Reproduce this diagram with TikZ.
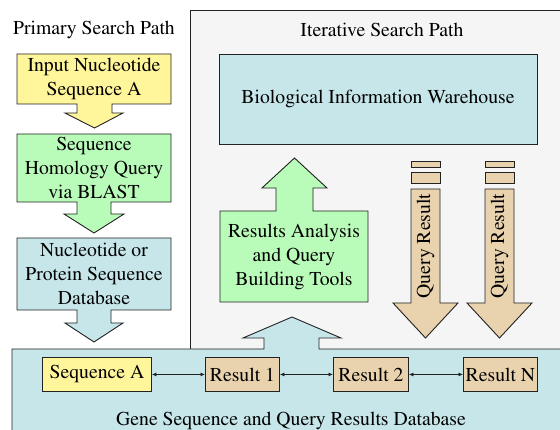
\documentclass[tikz,border=0pt]{standalone}
\usepackage[T1]{fontenc}
\usepackage{mathptmx}
\usetikzlibrary{arrows.meta}
\definecolor{cyel}{HTML}{FFF59A}
\definecolor{cgrn}{HTML}{B9FBB9}
\definecolor{cblu}{HTML}{C6E6E9}
\definecolor{ctan}{HTML}{E9D2AE}
\definecolor{cgry}{HTML}{F5F5F5}
\definecolor{cline}{HTML}{222222}
\begin{document}
\fontsize{19.7}{23.6}\selectfont
\begin{tikzpicture}[x=1pt,y=-1pt,
  shp/.style={draw=cline,line width=0.9pt,line join=miter},
  lbl/.style={align=center,inner sep=0pt,text=black},
  resbox/.style={draw=cline,line width=0.9pt,inner xsep=0pt,inner ysep=0pt,minimum height=34pt,anchor=north west,text=black},
  link/.style={cline,line width=0.7pt,{Latex[length=4.5pt,width=4pt]}-{Latex[length=4.5pt,width=4pt]}}]
\useasboundingbox (0,0) rectangle (560,430);
\clip (0,0) rectangle (560,430);
% shapes first
\fill[cgry,shp] (190,10) rectangle (570,349);
\filldraw[fill=cyel,shp] (17,54) -- (171,54) -- (171,104) -- (112,104) -- (112,113) -- (123,113) -- (94.5,128) -- (65,113) -- (77,113) -- (77,104) -- (17,104) -- cycle;
\filldraw[fill=cgrn,shp] (17,134) -- (171,134) -- (171,202) -- (111,202) -- (111,214) -- (124,214) -- (94,233) -- (64,214) -- (77,214) -- (77,202) -- (17,202) -- cycle;
\filldraw[fill=cblu,shp] (17,238) -- (171,238) -- (171,310) -- (111,310) -- (111,323) -- (123,323) -- (94,342) -- (65,323) -- (77,323) -- (77,310) -- (17,310) -- cycle;
\filldraw[fill=cblu,shp] (219,54) rectangle (537,144);
\filldraw[fill=cgrn,shp] (220,211) -- (276,211) -- (276,188) -- (262,188) -- (294.5,158) -- (327,188) -- (313,188) -- (313,211) -- (368,211) -- (368,302) -- (220,302) -- cycle;
\foreach \xa/\xb/\ha/\hb/\tip in {411/440/393/458/425.5, 485/514/467/532/499.5}{
  \filldraw[fill=ctan,shp] (\xa,161) rectangle (\xb,167);
  \filldraw[fill=ctan,shp] (\xa,172) rectangle (\xb,183);
  \filldraw[fill=ctan,shp] (\xa,189) -- (\xb,189) -- (\xb,303) -- (\hb,303) -- (\tip,338) -- (\ha,303) -- (\xa,303) -- cycle;
}
\filldraw[fill=cblu,shp] (12,349) -- (264,349) -- (264,338) -- (243,338) -- (292,317) -- (341,338) -- (319,338) -- (319,349) -- (570,349) -- (570,440) -- (12,440) -- cycle;
% texts
\node[lbl] (ptitle) at (94,30) {Primary Search Path};
\node[lbl] (ititle) at (382,30) {Iterative Search Path};
\node[lbl] (input) at (94,79) {Input Nucleotide\\Sequence A};
\node[lbl] (blast) at (94,168) {Sequence\\Homology Query\\via BLAST};
\node[lbl] (protdb) at (94,274) {Nucleotide or\\Protein Sequence\\Database};
\node[lbl] (wh) at (378,99) {Biological Information Warehouse};
\node[lbl] (tools) at (294,257) {Results Analysis\\and Query\\Building Tools};
\node[lbl,rotate=90] (qa) at (425.5,246) {Query Result};
\node[lbl,rotate=90] (qb) at (499.5,246) {Query Result};
\node[lbl] (gdb) at (291,421) {Gene Sequence and Query Results Database};
% result boxes
\node[resbox,fill=cyel,minimum width=109pt] (seqa) at (42,357) {Sequence A};
\node[resbox,fill=ctan,minimum width=74pt] (r1) at (205,357) {Result 1};
\node[resbox,fill=ctan,minimum width=75pt] (r2) at (333,357) {Result 2};
\node[resbox,fill=ctan,minimum width=74pt] (rn) at (463,357) {Result N};
\draw[link] (seqa) -- (r1);
\draw[link] (r1) -- (r2);
\draw[link] (r2) -- (rn);
\end{tikzpicture}
\end{document}
